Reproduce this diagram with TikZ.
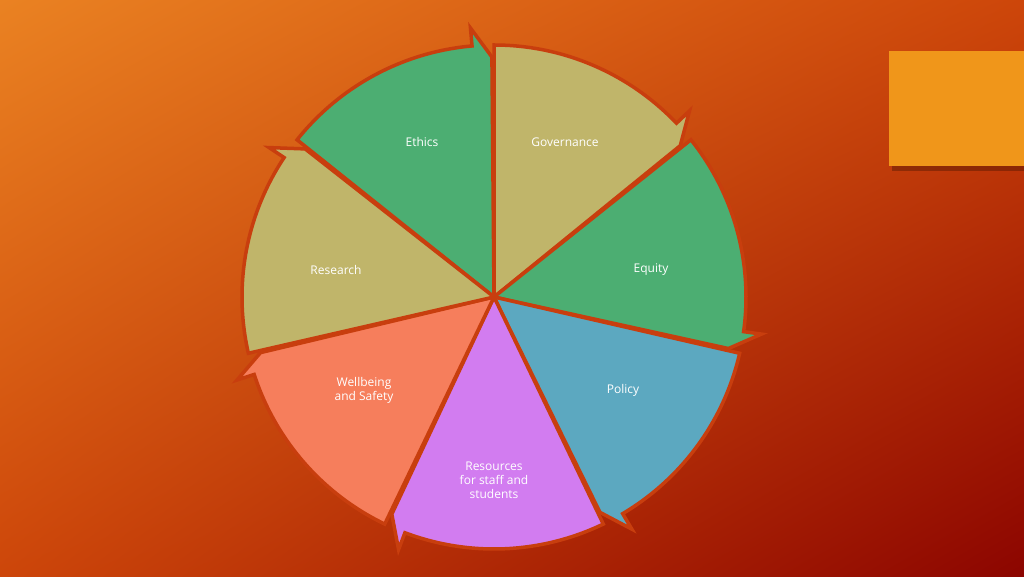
\documentclass[tikz,border=0pt]{standalone}
\usepackage{fontspec}
\setmainfont{Open Sans}
\usetikzlibrary{calc,shadings}
\definecolor{bgA}{RGB}{234,130,34}
\definecolor{bgB}{RGB}{205,70,10}
\definecolor{bgC}{RGB}{140,5,0}
\definecolor{gapc}{RGB}{200,62,14}
\definecolor{cgreen}{RGB}{76,174,114}
\definecolor{ckhaki}{RGB}{192,181,106}
\definecolor{cblue}{RGB}{92,168,192}
\definecolor{cviolet}{RGB}{210,124,240}
\definecolor{csalmon}{RGB}{246,126,92}
\definecolor{corange}{RGB}{240,150,26}
\tikzset{seg/.style={draw=gapc,line width=3.5pt,line join=miter},
 lbl/.style={text=white,font=\fontsize{12}{14}\selectfont,align=center}}
\newcommand{\segm}[3]{%
 \fill[#3] (C) -- ++(#1:252) arc[start angle=#1,end angle=#2+5,radius=252]
   -- ($(C)+(#2+5:270)$) -- ($(C)+(#2+0.5:240)$) -- cycle;
 \draw[seg] (C) -- ++(#1:252) arc[start angle=#1,end angle=#2+5,radius=252]
   -- ($(C)+(#2+5:270)$) -- ($(C)+(#2+0.5:240)$) -- cycle;}
\begin{document}
\begin{tikzpicture}[x=1pt,y=1pt]
\useasboundingbox (0,0) rectangle (1024,576);
\shade[upper left=bgA,upper right=bgB,lower left=bgB,lower right=bgC] (0,0) rectangle (1024,576);
\fill[black,opacity=0.25] (892,405) rectangle (1024,520);
\fill[corange] (889,410) rectangle (1024,525);
\coordinate (C) at (494,279);
\segm{141.4}{90}{cgreen}
\segm{90}{38.6}{ckhaki}
\segm{38.6}{-12.9}{cgreen}
\segm{-12.9}{-64.3}{cblue}
\segm{-64.3}{-115.7}{cviolet}
\segm{-115.7}{-167.1}{csalmon}
\segm{192.9}{141.4}{ckhaki}
\node[lbl] (l1) at (422,434) {Ethics};
\node[lbl] (l2) at (565,434) {Governance};
\node[lbl] (l3) at (651,306) {Equity};
\node[lbl] (l4) at (623,186) {Policy};
\node[lbl] (l5) at (494,96) {Resources\\for staff and\\students};
\node[lbl] (l6) at (364,186) {Wellbeing\\and Safety};
\node[lbl] (l7) at (336,306) {Research};
\end{tikzpicture}
\end{document}
